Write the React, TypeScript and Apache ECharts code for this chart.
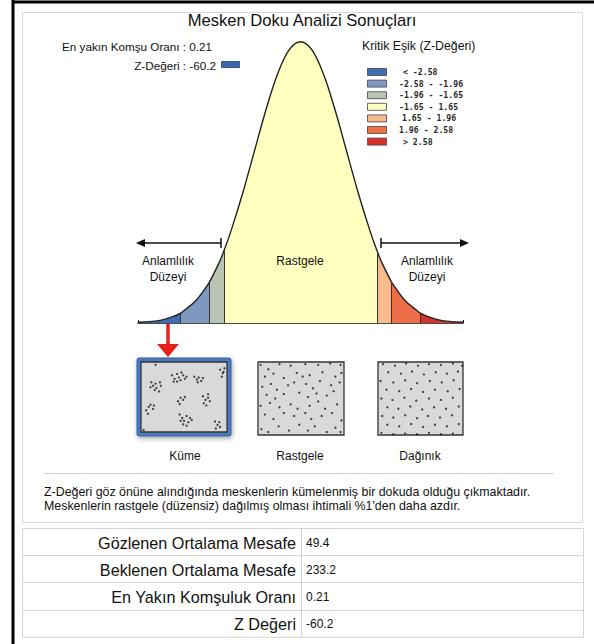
import React, { useEffect, useRef } from "react";
import * as echarts from "echarts";

// ---------- data ----------
const TITLE = "Mesken Doku Analizi Sonuçları";
const zValues = [-3.5, -3.25, -3, -2.75, -2.58, -2.5, -2.25, -2, -1.96, -1.75, -1.65, -1.5, -1.25, -1, -0.75, -0.5, -0.25, 0, 0.25, 0.5, 0.75, 1, 1.25, 1.5, 1.65, 1.75, 1.96, 2, 2.25, 2.5, 2.58, 2.75, 3, 3.25, 3.5];
const curveHeights = [0.001, 0.002, 0.004, 0.009, 0.014, 0.018, 0.032, 0.054, 0.058, 0.086, 0.102, 0.13, 0.183, 0.242, 0.301, 0.352, 0.387, 0.399, 0.387, 0.352, 0.301, 0.242, 0.183, 0.13, 0.102, 0.086, 0.058, 0.054, 0.032, 0.018, 0.014, 0.009, 0.004, 0.002, 0.001];
const thresholds = [-2.58, -1.96, -1.65, 1.65, 1.96, 2.58];
const thresholdHeights = [0.014, 0.058, 0.102, 0.102, 0.058, 0.014];
const classLabels = ["< -2.58", "-2.58 - -1.96", "-1.96 - -1.65", "-1.65 - 1.65", "1.65 - 1.96", "1.96 - 2.58", "> 2.58"];
const nnRatioText = "En yakın Komşu Oranı : 0.21";
const zScoreText = "Z-Değeri : -60.2";
const legendTitle = "Kritik Eşik (Z-Değeri)";
const sideLabel = ["Anlamlılık", "Düzeyi"];
const centerLabel = "Rastgele";
const patternLabels = ["Küme", "Rastgele", "Dağınık"];
const noteLines = [
  "Z-Değeri göz önüne alındığında meskenlerin kümelenmiş bir dokuda olduğu çıkmaktadır.",
  "Meskenlerin rastgele (düzensiz) dağılmış olması ihtimali %1'den daha azdır.",
];
const tableLabels = ["Gözlenen Ortalama Mesafe", "Beklenen Ortalama Mesafe", "En Yakın Komşuluk Oranı", "Z Değeri"];
const tableValues = ["49.4", "233.2", "0.21", "-60.2"];

const clusteredDots = [
  [17, 96],
  [12, 71], [14, 66], [17, 69], [18, 63], [16, 60], [22, 71], [23, 66], [21, 58], [11, 64],
  [36, 81], [39, 76], [42, 83], [44, 78], [46, 74], [49, 81], [51, 76], [42, 72], [53, 79], [47, 85], [38, 72],
  [62, 79], [65, 75], [67, 78], [70, 73], [72, 77], [66, 71],
  [92, 89], [95, 84], [97, 91], [94, 79], [96, 86],
  [43, 44], [46, 49], [49, 46], [45, 40], [51, 50],
  [72, 51], [75, 46], [78, 49], [80, 44], [73, 41], [78, 54], [76, 38],
  [6, 31], [9, 36], [11, 39], [14, 33], [8, 26], [15, 38],
  [45, 25], [48, 20], [50, 16], [53, 23], [55, 14], [57, 20], [49, 11], [53, 9], [46, 16], [59, 17],
  [86, 15], [89, 10], [91, 14], [87, 5], [92, 7],
  [3, 3],
];
const randomDots = [
  [3, 96], [12, 90], [25, 97], [38, 95], [55, 97], [70, 96], [84, 98], [96, 96],
  [8, 80], [18, 84], [30, 78], [45, 85], [52, 80], [60, 82], [75, 86], [90, 80], [97, 85],
  [5, 66], [15, 70], [22, 62], [35, 68], [42, 72], [56, 70], [64, 64], [72, 74], [85, 68], [95, 72],
  [10, 55], [20, 50], [30, 56], [48, 58], [58, 52], [68, 57], [80, 54], [88, 60],
  [3, 40], [14, 44], [25, 38], [38, 42], [46, 36], [60, 40], [70, 46], [78, 36], [92, 42],
  [8, 28], [18, 22], [30, 30], [42, 26], [55, 30], [62, 22], [74, 26], [86, 30], [97, 20],
  [4, 8], [12, 4], [24, 12], [36, 6], [48, 14], [58, 6], [66, 12], [80, 4], [90, 10], [96, 4],
];
const dispersedDots = [
  [6, 97], [20, 95], [33, 98], [47, 95], [60, 97], [74, 96], [88, 98], [99, 95],
  [12, 86], [27, 84], [40, 87], [54, 83], [68, 86], [81, 84], [94, 87],
  [3, 74], [18, 72], [32, 75], [46, 71], [61, 74], [75, 72], [89, 75],
  [10, 62], [25, 60], [39, 63], [53, 59], [67, 62], [82, 60], [96, 63],
  [4, 50], [17, 48], [31, 51], [45, 47], [60, 50], [74, 48], [88, 51],
  [11, 38], [24, 36], [38, 39], [52, 35], [66, 38], [80, 36], [95, 39],
  [5, 26], [18, 24], [32, 27], [46, 23], [59, 26], [73, 24], [87, 27],
  [11, 14], [25, 12], [39, 15], [53, 11], [67, 14], [81, 12], [95, 15],
  [4, 3], [18, 1], [32, 2], [46, 1], [60, 3], [74, 1], [88, 2],
];

// ---------- styles ----------
const CLASS_COLORS = ["#3f6db3", "#7f98c2", "#b9c4b6", "#ffffc0", "#f8b98b", "#ee6e48", "#d6302a"];
const LEGEND_X = [403, 399, 399, 399, 402, 399, 403];
const SANS = '"Liberation Sans", Arial, sans-serif';
const MONO = '"DejaVu Sans Mono", monospace';

function txt(text: string, x: number, y: number, size: number, align = "left", extra: any = {}) {
  return {
    type: "text",
    x,
    y,
    style: {
      text,
      font: `${extra.weight || "normal"} ${size}px ${extra.family || SANS}`,
      fill: extra.color || "#111",
      textAlign: align,
      align,
      textVerticalAlign: "middle",
      verticalAlign: "middle",
    },
    z: 10,
  };
}

export default function App() {
  const ref = useRef<HTMLDivElement>(null);
  useEffect(() => {
    if (!ref.current) return;
    const chart = echarts.init(ref.current, null, { renderer: "svg" });

    const curveData = zValues.map((z, i) => [z, curveHeights[i]]);
    const markLines = thresholds.map((t, i) => [
      { coord: [t, 0] },
      { coord: [t, thresholdHeights[i]] },
    ]);

    const graphics: any[] = [];
    // frame
    graphics.push({ type: "line", shape: { x1: 12, y1: 2, x2: 594, y2: 2 }, style: { stroke: "#000", lineWidth: 3 } });
    graphics.push({ type: "line", shape: { x1: 13, y1: 0, x2: 13, y2: 644 }, style: { stroke: "#000", lineWidth: 3 } });
    graphics.push({ type: "rect", shape: { x: 22.5, y: 12.5, width: 560, height: 510 }, style: { fill: "none", stroke: "#d8d8d8", lineWidth: 1 } });
    // title & info
    graphics.push(txt(TITLE, 302, 20, 16.6, "center"));
    graphics.push(txt(nnRatioText, 62, 46, 11.7, "left"));
    graphics.push(txt(zScoreText, 216, 65, 11.7, "right"));
    graphics.push({ type: "rect", shape: { x: 221.5, y: 61.5, width: 18, height: 6 }, style: { fill: "#3a68b0", stroke: "#223f70", lineWidth: 0.8 }, z: 10 });
    // legend
    graphics.push(txt(legendTitle, 362, 46, 12.3, "left"));
    classLabels.forEach((lab, i) => {
      const y = 72 + i * 11.6;
      graphics.push({ type: "rect", shape: { x: 367.5, y: y - 3.5, width: 19, height: 7 }, style: { fill: CLASS_COLORS[i], stroke: "#444", lineWidth: 0.8 }, z: 10 });
      graphics.push(txt(lab, LEGEND_X[i], y, 8.2, "left", { weight: "bold", family: MONO, color: "#2a2a2a" }));
    });
    // arrows
    graphics.push({ type: "line", shape: { x1: 141, y1: 243, x2: 221, y2: 243 }, style: { stroke: "#111", lineWidth: 1.5 }, z: 10 });
    graphics.push({ type: "line", shape: { x1: 221, y1: 238, x2: 221, y2: 248 }, style: { stroke: "#111", lineWidth: 1.5 }, z: 10 });
    graphics.push({ type: "polygon", shape: { points: [[136, 243], [145, 239], [145, 247]] }, style: { fill: "#111" }, z: 10 });
    graphics.push({ type: "line", shape: { x1: 381, y1: 243, x2: 464, y2: 243 }, style: { stroke: "#111", lineWidth: 1.5 }, z: 10 });
    graphics.push({ type: "line", shape: { x1: 381, y1: 238, x2: 381, y2: 248 }, style: { stroke: "#111", lineWidth: 1.5 }, z: 10 });
    graphics.push({ type: "polygon", shape: { points: [[469, 243], [460, 239], [460, 247]] }, style: { fill: "#111" }, z: 10 });
    graphics.push(txt(sideLabel[0], 168, 261, 12, "center"));
    graphics.push(txt(sideLabel[1], 168, 277, 12, "center"));
    graphics.push(txt(sideLabel[0], 427, 261, 12, "center"));
    graphics.push(txt(sideLabel[1], 427, 277, 12, "center"));
    graphics.push(txt(centerLabel, 300, 261, 12, "center"));
    // red arrow
    graphics.push({ type: "line", shape: { x1: 168, y1: 324, x2: 168, y2: 346 }, style: { stroke: "#e8211b", lineWidth: 3.5 }, z: 10 });
    graphics.push({ type: "polygon", shape: { points: [[157, 344], [179, 344], [168, 357]] }, style: { fill: "#e8211b" }, z: 10 });
    // blue frame for cluster box
    graphics.push({ type: "rect", shape: { x: 137, y: 358, width: 94, height: 78, r: 2 }, style: { fill: "#4a79be", stroke: "#36609f", lineWidth: 1, shadowBlur: 5, shadowColor: "rgba(0,0,0,0.35)", shadowOffsetX: 1, shadowOffsetY: 2 }, z: -5 });
    graphics.push(txt(patternLabels[0], 185, 456, 12, "center"));
    graphics.push(txt(patternLabels[1], 300, 456, 12, "center"));
    graphics.push(txt(patternLabels[2], 420, 456, 12, "center"));
    // separator & note
    graphics.push({ type: "line", shape: { x1: 44, y1: 473.5, x2: 554, y2: 473.5 }, style: { stroke: "#d0d0d0", lineWidth: 1 } });
    graphics.push(txt(noteLines[0], 44, 492, 12.4, "left"));
    graphics.push(txt(noteLines[1], 44, 506, 12.4, "left"));
    // table
    const rowTop = 528;
    const rowH = 27.2;
    graphics.push({ type: "rect", shape: { x: 22.5, y: rowTop + 0.5, width: 561, height: rowH * 4 }, style: { fill: "#fff", stroke: "#d4d4d4", lineWidth: 1 } });
    for (let i = 1; i < 4; i++) {
      const y = Math.round(rowTop + i * rowH) + 0.5;
      graphics.push({ type: "line", shape: { x1: 22.5, y1: y, x2: 583.5, y2: y }, style: { stroke: "#d4d4d4", lineWidth: 1 } });
    }
    graphics.push({ type: "line", shape: { x1: 301.5, y1: rowTop, x2: 301.5, y2: rowTop + rowH * 4 }, style: { stroke: "#d4d4d4", lineWidth: 1 } });
    tableLabels.forEach((lab, i) => {
      const cy = rowTop + rowH * i + rowH / 2 + 1;
      graphics.push(txt(lab, 296, cy, 16.2, "right"));
      graphics.push(txt(tableValues[i], 306, cy, 12, "left"));
    });

    const boxGrid = (left: number, top: number, width: number, height: number) => ({
      show: true, left, top, width, height,
      backgroundColor: "#d9d9d9", borderColor: "#333", borderWidth: 1.3,
    });
    const hiddenAxis = (gridIndex: number) => ({ type: "value", gridIndex, min: 0, max: 100, show: false });
    const dotSeries = (data: number[][], idx: number) => ({
      type: "scatter", xAxisIndex: idx, yAxisIndex: idx, data,
      symbolSize: 2.3, itemStyle: { color: "#1a1a1a" }, silent: true,
    });

    chart.setOption({
      animation: false,
      backgroundColor: "#ffffff",
      grid: [
        { left: 138, top: 41, width: 325, height: 282 },
        boxGrid(141, 362, 86, 70),
        boxGrid(258, 362, 86, 73),
        boxGrid(378, 362, 85, 73),
      ],
      xAxis: [
        {
          type: "value", gridIndex: 0, min: -3.5, max: 3.5, interval: 3.5,
          axisLine: { show: true, onZero: false, lineStyle: { color: "#111", width: 1.5 } },
          axisTick: { show: true, inside: true, length: 3, lineStyle: { color: "#111" } },
          axisLabel: { show: false }, splitLine: { show: false },
        },
        hiddenAxis(1), hiddenAxis(2), hiddenAxis(3),
      ],
      yAxis: [
        { type: "value", gridIndex: 0, min: 0, max: 0.4, show: false, splitLine: { show: false } },
        hiddenAxis(1), hiddenAxis(2), hiddenAxis(3),
      ],
      visualMap: {
        type: "piecewise", show: false, dimension: 0, seriesIndex: 0,
        pieces: [
          { lt: thresholds[0], color: CLASS_COLORS[0] },
          { gte: thresholds[0], lt: thresholds[1], color: CLASS_COLORS[1] },
          { gte: thresholds[1], lt: thresholds[2], color: CLASS_COLORS[2] },
          { gte: thresholds[2], lt: thresholds[3], color: CLASS_COLORS[3] },
          { gte: thresholds[3], lt: thresholds[4], color: CLASS_COLORS[4] },
          { gte: thresholds[4], lt: thresholds[5], color: CLASS_COLORS[5] },
          { gte: thresholds[5], color: CLASS_COLORS[6] },
        ],
      },
      series: [
        {
          type: "line", xAxisIndex: 0, yAxisIndex: 0, data: curveData, smooth: 0.35,
          showSymbol: false, symbol: "none",
          lineStyle: { color: "#222", width: 1.4 },
          areaStyle: { opacity: 1 },
          markLine: {
            silent: true, symbol: "none", label: { show: false },
            lineStyle: { color: "#333", type: "solid", width: 1 },
            data: markLines,
          },
          z: 2,
        },
        dotSeries(clusteredDots, 1),
        dotSeries(randomDots, 2),
        dotSeries(dispersedDots, 3),
      ],
      graphic: { elements: graphics },
    });
    return () => chart.dispose();
  }, []);
  return (
    <div
      ref={ref}
      style={{ position: "absolute", left: 0, top: 0, width: 594, height: 644, background: "#fff" }}
    />
  );
}
